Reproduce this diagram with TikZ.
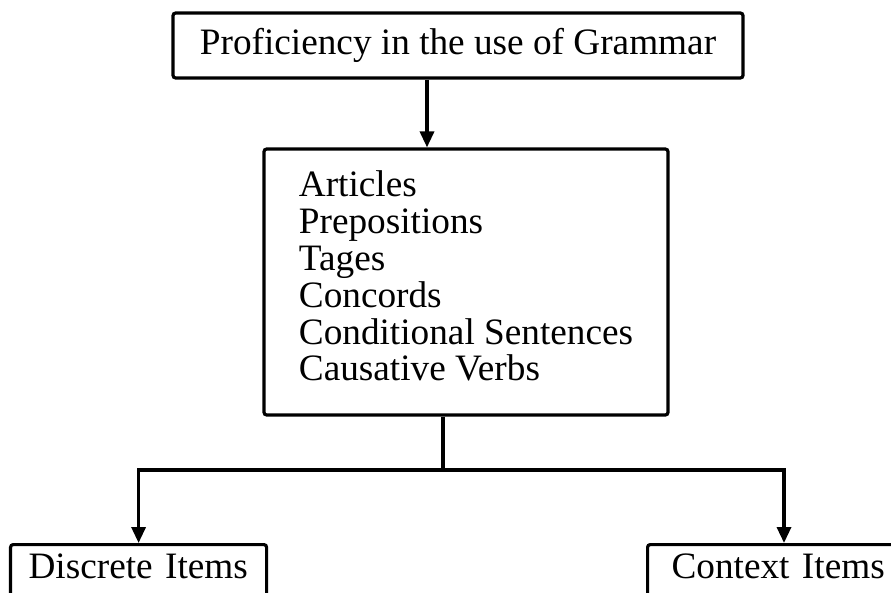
\documentclass[tikz,border=0pt]{standalone}
\usepackage{fontspec}
\setmainfont{Liberation Serif}
\usepackage{tikz}
\usetikzlibrary{arrows.meta}
\tikzstyle{box} = [draw, line width=1.8pt, rounded corners=1.5pt]
\tikzstyle{itembox} = [box, anchor=north west, align=left, inner ysep=0.18cm, text height=0.5cm, text depth=0.8cm]
\tikzstyle{link} = [line width=1.9pt]
\tikzstyle{arr} = [link, -{Triangle[width=0.28cm,length=0.32cm]}]

\begin{document}
\begin{tikzpicture}[font=\fontsize{21.2}{21}\selectfont]
				\useasboundingbox (0,0) rectangle (17.82,-11.84);
				\node[box, minimum width=11.4cm, minimum height=1.3cm] (top) at (9.16,-0.91) {Proficiency in the use of Grammar};
				\node[box, align=left, minimum width=8.08cm, minimum height=5.32cm, text depth=0.25cm] (mid) at (9.32,-5.64) {Articles\\Prepositions\\Tages\\Concords\\Conditional Sentences\\Causative Verbs};
				\node[itembox, inner xsep=0.36cm, text width=4.4cm] (disc) at (0.18,-10.86) {Discrete Items};
				\node[itembox, inner xsep=0.48cm, text width=4.5cm] (ctx) at (12.92,-10.86) {Context Items};
				\coordinate (ax) at (8.54,0);
				\coordinate (split) at (8.86,-9.4);
				\coordinate (rx) at (15.68,0);
				\draw[arr] (top.south -| ax) -- (mid.north -| ax);
				\draw[link] (mid.south -| split) -- (split);
				\draw[arr] (split) -| (disc.north);
				\draw[arr] (split) -| (ctx.north -| rx);
			\end{tikzpicture}
\end{document}
